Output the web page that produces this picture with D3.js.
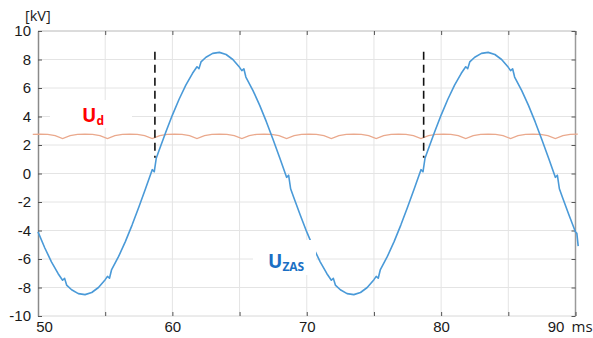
<!DOCTYPE html>
<html>
<head>
<meta charset="utf-8">
<script src="https://cdn.jsdelivr.net/npm/d3@7"></script>
<style>
  body { margin: 0; background: #fff; }
  svg { display: block; font-family: "Open Sans", "Noto Sans", sans-serif; }
</style>
</head>
<body>
<div id="chart"></div>
<script>
"use strict";

// U_ZAS (kV), with the commutation notches
var uzasT = [50, 50.5, 51, 51.5, 51.83, 51.98, 52.13, 52.5, 53, 53.5, 54, 54.5, 55, 55.17, 55.32, 55.47,
  56, 56.5, 57, 57.5, 58, 58.5, 58.65, 58.8, 59, 59.5, 60, 60.5, 61, 61.5, 61.83, 61.98, 62.13,
  62.5, 63, 63.5, 64, 64.5, 65, 65.17, 65.32, 65.47, 66, 66.5, 67, 67.5, 68, 68.5, 68.65, 68.8,
  69, 69.5, 70, 70.5, 71, 71.5, 71.83, 71.98, 72.13, 72.5, 73, 73.5, 74, 74.5, 75, 75.17, 75.32,
  75.47, 76, 76.5, 77, 77.5, 78, 78.5, 78.65, 78.8, 79, 79.5, 80, 80.5, 81, 81.5, 81.83, 81.98,
  82.13, 82.5, 83, 83.5, 84, 84.5, 85, 85.17, 85.32, 85.47, 86, 86.5, 87, 87.5, 88, 88.5, 88.65,
  88.8, 89, 89.5, 90, 90.1, 90.2];
var uzasV = [-4.10, -5.21, -6.20, -7.03, -7.49, -7.36, -7.83, -8.16, -8.43, -8.50, -8.35, -8.00, -7.45, -7.22, -7.35, -6.77,
  -5.82, -4.78, -3.62, -2.37, -1.07, 0.27, 0.12, 1.07, 1.59, 2.88, 4.10, 5.21, 6.20, 7.03, 7.49, 7.36, 7.83,
  8.16, 8.43, 8.50, 8.35, 8.00, 7.45, 7.22, 7.35, 6.77, 5.82, 4.78, 3.62, 2.37, 1.07, -0.27, -0.12, -1.07,
  -1.59, -2.88, -4.10, -5.21, -6.20, -7.03, -7.49, -7.36, -7.83, -8.16, -8.43, -8.50, -8.35, -8.00, -7.45, -7.22, -7.35,
  -6.77, -5.82, -4.78, -3.62, -2.37, -1.07, 0.27, 0.12, 1.07, 1.59, 2.88, 4.10, 5.21, 6.20, 7.03, 7.49, 7.36,
  7.83, 8.16, 8.43, 8.50, 8.35, 8.00, 7.45, 7.22, 7.35, 6.77, 5.82, 4.78, 3.62, 2.37, 1.07, -0.27, -0.12,
  -1.07, -1.59, -2.88, -4.10, -4.20, -5.10];

// U_d (kV), 6-pulse ripple
var udT = [49.61, 50.17, 50.72, 51.28,
  51.83, 52.39, 52.94, 53.5, 54.06, 54.61,
  55.17, 55.72, 56.28, 56.83, 57.39, 57.94,
  58.5, 59.06, 59.61, 60.17, 60.72, 61.28,
  61.83, 62.39, 62.94, 63.5, 64.06, 64.61,
  65.17, 65.72, 66.28, 66.83, 67.39, 67.94,
  68.5, 69.06, 69.61, 70.17, 70.72, 71.28,
  71.83, 72.39, 72.94, 73.5, 74.06, 74.61,
  75.17, 75.72, 76.28, 76.83, 77.39, 77.94,
  78.5, 79.06, 79.61, 80.17, 80.72, 81.28,
  81.83, 82.39, 82.94, 83.5, 84.06, 84.61,
  85.17, 85.72, 86.28, 86.83, 87.39, 87.94,
  88.5, 89.06, 89.61, 90.17];
var udV = [2.75, 2.77, 2.75, 2.66,
  2.45, 2.66, 2.75, 2.77, 2.75, 2.66,
  2.45, 2.66, 2.75, 2.77, 2.75, 2.66,
  2.45, 2.66, 2.75, 2.77, 2.75, 2.66,
  2.45, 2.66, 2.75, 2.77, 2.75, 2.66,
  2.45, 2.66, 2.75, 2.77, 2.75, 2.66,
  2.45, 2.66, 2.75, 2.77, 2.75, 2.66,
  2.45, 2.66, 2.75, 2.77, 2.75, 2.66,
  2.45, 2.66, 2.75, 2.77, 2.75, 2.66,
  2.45, 2.66, 2.75, 2.77, 2.75, 2.66,
  2.45, 2.66, 2.75, 2.77, 2.75, 2.66,
  2.45, 2.66, 2.75, 2.77, 2.75, 2.66,
  2.45, 2.66, 2.75, 2.77];

// dashed marker lines (ms) and their extent (kV)
var markerT = [58.7, 78.7];
var markerRange = [1.1, 8.55];

var xTicks = [50, 55, 60, 65, 70, 75, 80, 85, 90];
var xLabels = [50, 60, 70, 80, 90];
var yTicks = [-10, -8, -6, -4, -2, 0, 2, 4, 6, 8, 10];

var W = 593, H = 338;
var margin = {top: 31, right: 17.5, bottom: 22, left: 38};

var svg = d3.select("#chart").append("svg")
    .attr("width", W)
    .attr("height", H);

var x = d3.scaleLinear().domain([50, 90]).range([margin.left, W - margin.right]);
var y = d3.scaleLinear().domain([-10, 10]).range([H - margin.bottom, margin.top]);

// grid
svg.append("g").selectAll("line")
    .data(xTicks.slice(1, -1)).join("line")
    .attr("x1", d => x(d)).attr("x2", d => x(d))
    .attr("y1", y(-10)).attr("y2", y(10))
    .attr("stroke", "#e4e4e4").attr("stroke-width", 1);
svg.append("g").selectAll("line")
    .data(yTicks.slice(1, -1)).join("line")
    .attr("x1", x(50)).attr("x2", x(90))
    .attr("y1", d => y(d)).attr("y2", d => y(d))
    .attr("stroke", "#e4e4e4").attr("stroke-width", 1);

// box
svg.append("line").attr("x1", x(50)).attr("x2", x(90)).attr("y1", y(10)).attr("y2", y(10))
    .attr("stroke", "#b8b8b8");
svg.append("line").attr("x1", x(50)).attr("x2", x(90)).attr("y1", y(-10)).attr("y2", y(-10))
    .attr("stroke", "#d8d8d8");
svg.append("line").attr("x1", x(90)).attr("x2", x(90)).attr("y1", y(10)).attr("y2", y(-10))
    .attr("stroke", "#9a9a9a").attr("stroke-width", 1.5);

// top / right inward ticks
svg.append("g").attr("transform", "translate(0," + y(10) + ")")
    .call(d3.axisTop(x).tickValues(xTicks).tickSizeInner(-4).tickSizeOuter(0).tickFormat(""))
    .call(g => g.select(".domain").remove())
    .selectAll("line").attr("stroke", "#555");
svg.append("g").attr("transform", "translate(" + x(90) + ",0)")
    .call(d3.axisRight(y).tickValues(yTicks).tickSizeInner(-4).tickSizeOuter(0).tickFormat(""))
    .call(g => g.select(".domain").remove())
    .selectAll("line").attr("stroke", "#555");

// bottom axis
var xAxis = svg.append("g").attr("transform", "translate(0," + y(-10) + ")")
    .call(d3.axisBottom(x).tickValues(xTicks).tickSizeInner(-4).tickSizeOuter(0).tickPadding(5)
        .tickFormat(d => xLabels.indexOf(d) >= 0 ? String(d) : ""));
xAxis.select(".domain").remove();
xAxis.selectAll("line").attr("stroke", "#555");
xAxis.selectAll("text").attr("font-size", 15).attr("fill", "#1a1a1a").attr("font-family", null);
xAxis.selectAll(".tick").filter(d => d === 50).select("text").attr("dx", 6);
xAxis.selectAll(".tick").filter(d => d === 90).select("text").attr("dx", -20);

svg.append("text")
    .attr("x", x(90) - 4).attr("y", y(-10) + 16)
    .attr("font-size", 15).attr("fill", "#1a1a1a")
    .text("ms");

// left axis, plain hyphen for negatives like the source
var yAxis = svg.append("g").attr("transform", "translate(" + x(50) + ",0)")
    .call(d3.axisLeft(y).tickValues(yTicks).tickSizeInner(-4).tickSizeOuter(0).tickPadding(7)
        .tickFormat(d => String(d)));
yAxis.select(".domain").attr("stroke", "#8a8a8a").attr("stroke-width", 1.5);
yAxis.selectAll("line").attr("stroke", "#555");
yAxis.selectAll("text").attr("font-size", 15).attr("fill", "#1a1a1a").attr("font-family", null);

svg.append("text")
    .attr("x", 25).attr("y", 21)
    .attr("font-size", 14.5).attr("fill", "#1a1a1a")
    .text("[kV]");

// curves
var line = d3.line().x(d => x(d[0])).y(d => y(d[1]));

svg.append("path")
    .datum(d3.zip(udT, udV))
    .attr("fill", "none")
    .attr("stroke", "#eaa98d")
    .attr("stroke-width", 1.3)
    .attr("d", line);

svg.append("path")
    .datum(d3.zip(uzasT, uzasV))
    .attr("fill", "none")
    .attr("stroke", "#4a9ad8")
    .attr("stroke-width", 1.6)
    .attr("stroke-linejoin", "round")
    .attr("d", line);

// dashed markers
svg.append("g").selectAll("line")
    .data(markerT).join("line")
    .attr("x1", d => x(d)).attr("x2", d => x(d))
    .attr("y1", y(markerRange[1])).attr("y2", y(markerRange[0]))
    .attr("stroke", "#111")
    .attr("stroke-width", 1.6)
    .attr("stroke-dasharray", "8,5");

// labels with white background
function label(cx, cy, box, main, sub, color) {
    svg.append("rect")
        .attr("x", box[0]).attr("y", box[1]).attr("width", box[2]).attr("height", box[3])
        .attr("fill", "#fff");
    var t = svg.append("text")
        .attr("x", cx).attr("y", cy)
        .attr("fill", color)
        .attr("font-weight", "bold")
        .attr("font-size", 19);
    t.append("tspan").text(main);
    t.append("tspan").attr("font-size", 12).attr("dy", 3).text(sub);
}

label(82, 122, [50, 100, 82, 28], "U", "d", "#ff0000");
label(268, 268, [253, 240, 63, 35], "U", "ZAS", "#1a6fc4");
</script>
</body>
</html>
